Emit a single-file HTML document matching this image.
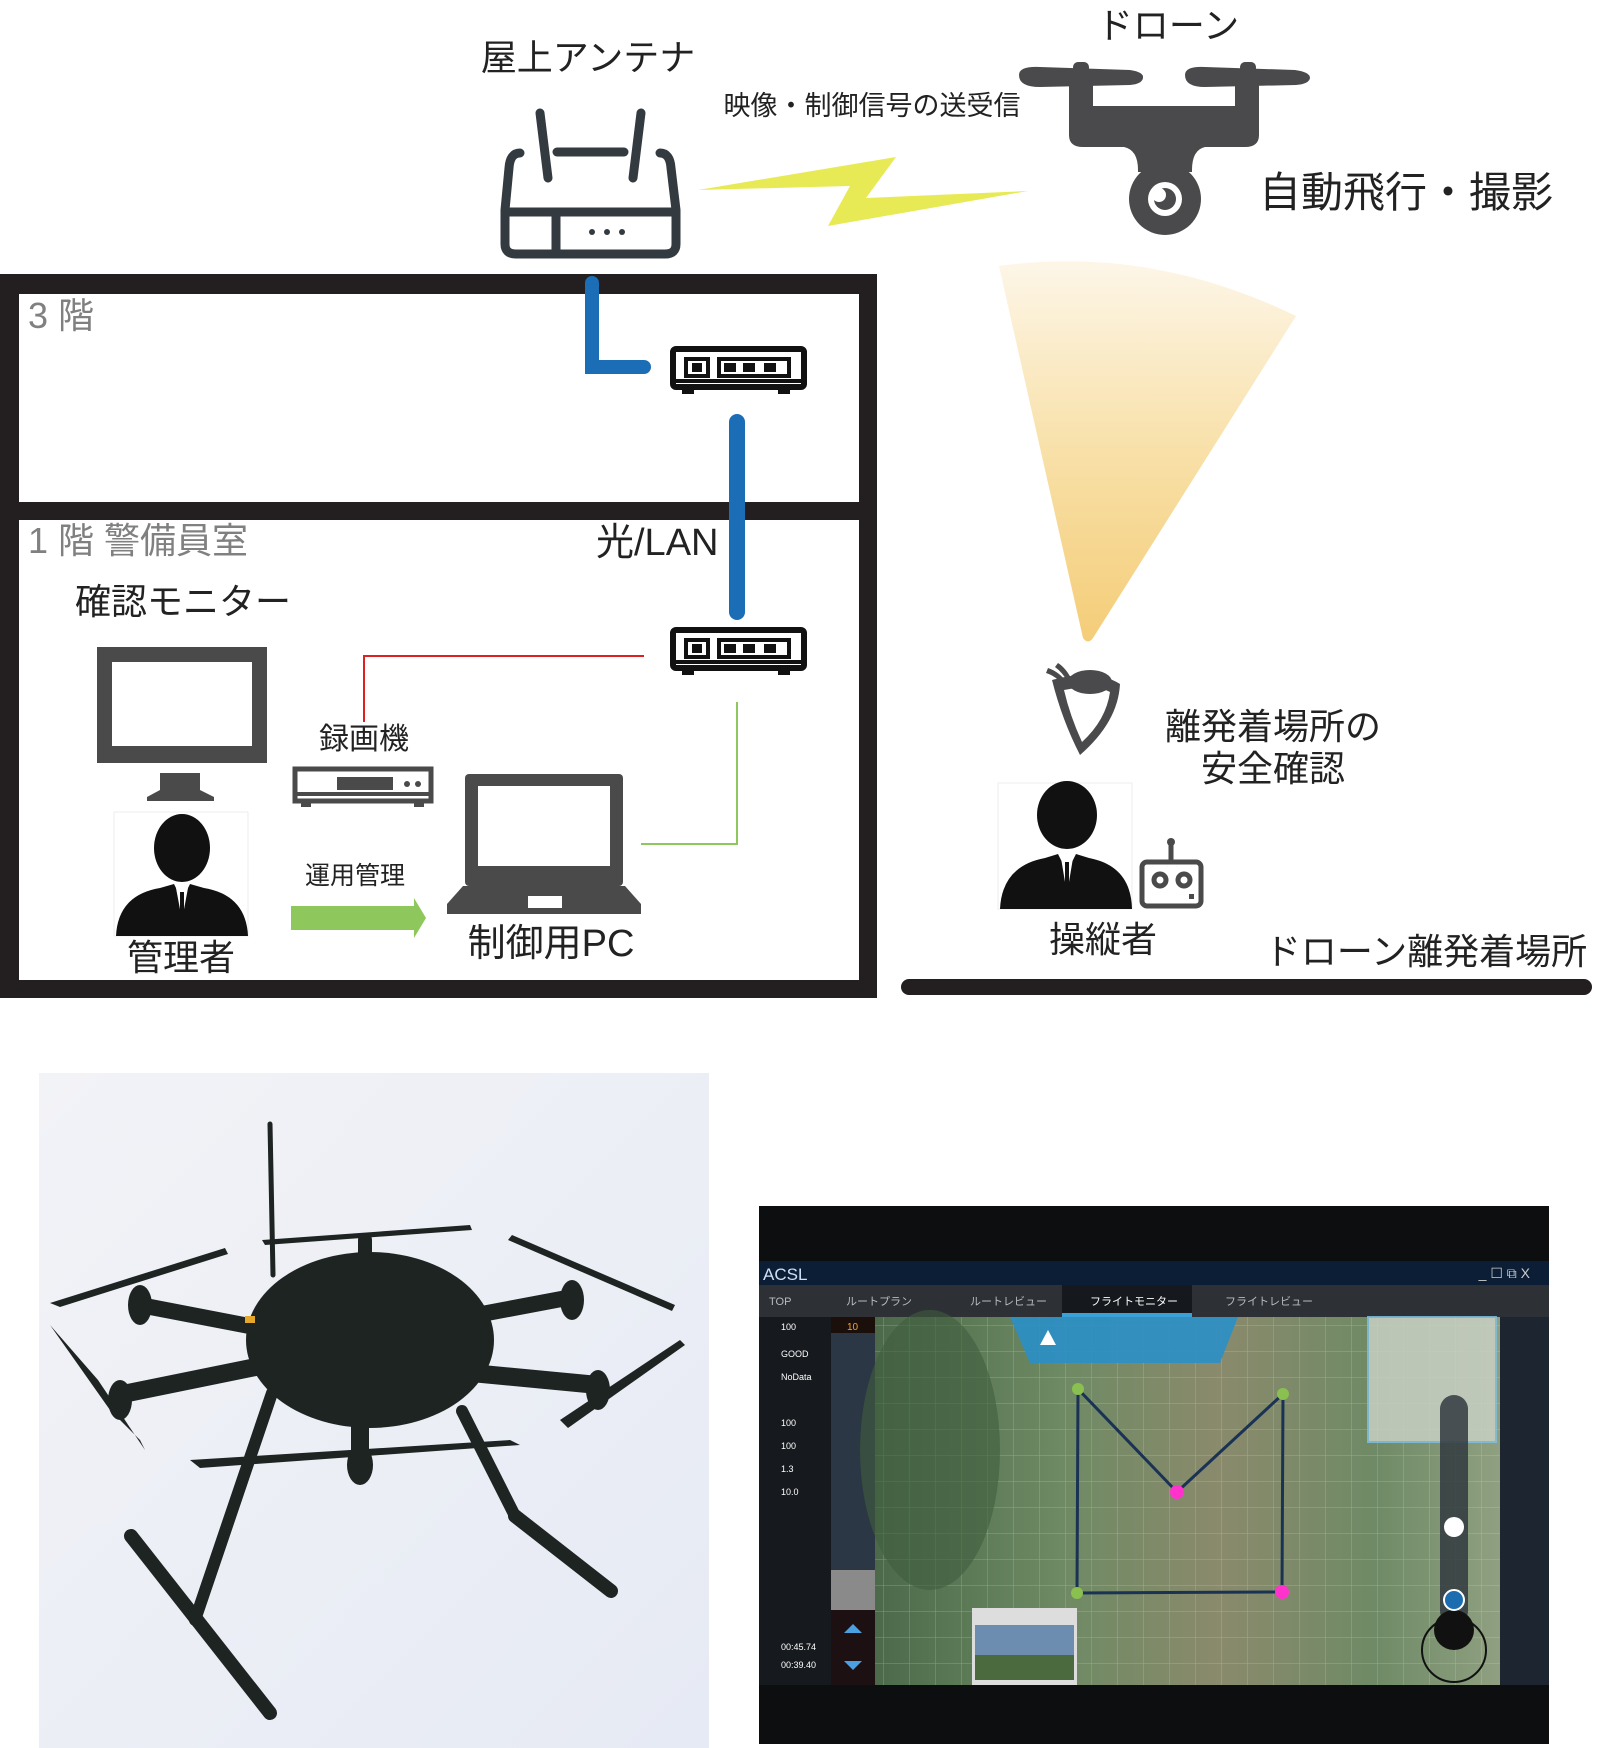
<!DOCTYPE html>
<html><head><meta charset="utf-8"><style>
html,body{margin:0;padding:0;background:#fff;}
svg{display:block;font-family:"Liberation Sans","Noto Sans CJK JP",sans-serif;}
</style></head><body>
<svg width="1598" height="1748" viewBox="0 0 1598 1748" xmlns="http://www.w3.org/2000/svg">
<defs>
<linearGradient id="fan" x1="0" y1="0" x2="0" y2="1">
<stop offset="0" stop-color="#fdf6e8"/><stop offset="0.5" stop-color="#f8e0a8"/><stop offset="1" stop-color="#f4cd78"/>
</linearGradient>
<linearGradient id="photo" x1="0" y1="0" x2="1" y2="1">
<stop offset="0" stop-color="#f2f3f7"/><stop offset="1" stop-color="#e6eaf4"/>
</linearGradient>
<linearGradient id="map" x1="0" y1="0" x2="1" y2="0">
<stop offset="0" stop-color="#4c6a4a"/><stop offset="0.3" stop-color="#6e8a64"/><stop offset="0.55" stop-color="#8a8a6c"/><stop offset="0.8" stop-color="#6f8a66"/><stop offset="1" stop-color="#8fa080"/>
</linearGradient>
<pattern id="grid" width="26" height="26" patternUnits="userSpaceOnUse"><path d="M26 0V26H0" fill="none" stroke="#dfe8e0" stroke-opacity="0.35" stroke-width="1"/></pattern>
</defs>

<!-- top texts -->
<g fill="#222" font-size="36">
<text x="588" y="70" text-anchor="middle">屋上アンテナ</text>
<text x="1168" y="38" text-anchor="middle">ドローン</text>
<text x="1406" y="207" text-anchor="middle" font-size="42">自動飛行・撮影</text>
</g>
<text x="872" y="115" text-anchor="middle" font-size="27" fill="#222">映像・制御信号の送受信</text>

<!-- router -->
<g fill="none" stroke="#333a40" stroke-width="9" stroke-linecap="round" stroke-linejoin="round">
<path d="M520 153 Q510 153 509 168 L505 210 L505 244 Q505 254 516 254 L665 254 Q676 254 676 244 L676 210 L671 168 Q670 153 660 153"/>
<line x1="505" y1="212" x2="676" y2="212"/>
<line x1="556" y1="212" x2="556" y2="254"/>
<line x1="540" y1="113" x2="548" y2="178"/>
<line x1="641" y1="113" x2="633" y2="178"/>
<line x1="557" y1="152" x2="624" y2="152"/>
</g>
<g fill="#333a40"><circle cx="592" cy="232" r="3"/><circle cx="607" cy="232" r="3"/><circle cx="622" cy="232" r="3"/></g>

<!-- lightning -->
<polygon points="698,190 896,157 866,198 1028,191 828,226 850,186" fill="#e8ea55"/>

<!-- drone icon -->
<g fill="#4a4a4c">
<path d="M1019 75 Q1019 66 1040 67 L1130 70 Q1144 72 1143 78 Q1142 84 1130 85 L1040 87 Q1019 87 1019 75Z"/>
<path d="M1185 75 Q1185 66 1205 67 L1295 70 Q1310 72 1310 78 Q1309 84 1296 85 L1205 87 Q1185 87 1185 75Z"/>
<rect x="1073" y="62" width="16" height="22" rx="5"/><rect x="1240" y="62" width="16" height="22" rx="5"/>
<path d="M1069 80 L1093 80 L1093 106 L1235 106 L1235 80 L1259 80 L1259 135 Q1259 147 1245 147 L1205 147 Q1192 150 1192 170 L1192 172 L1138 172 L1138 170 Q1138 150 1124 147 L1083 147 Q1069 147 1069 135Z"/>
<circle cx="1165" cy="199" r="36"/>
</g>
<circle cx="1165" cy="199" r="17" fill="#fff"/><circle cx="1165" cy="199" r="11" fill="#4a4a4c"/><circle cx="1159" cy="195" r="7" fill="#fff"/>

<!-- fan -->
<path d="M999 266 Q1150 245 1296 316 L1093 638 L1093 638 Q1088 645 1083 638 Z" fill="url(#fan)"/>

<!-- building -->
<rect x="0" y="274" width="877" height="724" fill="#231f20"/>
<rect x="19" y="294" width="840" height="208" fill="#fff"/>
<rect x="19" y="520" width="840" height="460" fill="#fff"/>
<text x="28" y="328" font-size="36" fill="#808080">3 階</text>
<text x="28" y="553" font-size="36" fill="#808080">1 階 警備員室</text>
<text x="596" y="555" font-size="38" fill="#222">光/LAN</text>
<text x="75" y="614" font-size="36" fill="#222">確認モニター</text>

<!-- blue lines -->
<path d="M592 283 V367 H644" fill="none" stroke="#1b6db5" stroke-width="14" stroke-linecap="round"/>
<line x1="737" y1="422" x2="737" y2="612" stroke="#1b6db5" stroke-width="16" stroke-linecap="round"/>

<!-- switches -->
<g id="sw">
<rect x="673" y="349" width="131" height="38" rx="3" fill="#fff" stroke="#111" stroke-width="6"/>
<line x1="673" y1="381" x2="804" y2="381" stroke="#111" stroke-width="4"/>
<rect x="686" y="359" width="22" height="17" fill="none" stroke="#111" stroke-width="4"/>
<rect x="719" y="359" width="70" height="17" fill="none" stroke="#111" stroke-width="4"/>
<rect x="692" y="363" width="10" height="9" fill="#111"/><rect x="724" y="363" width="12" height="9" fill="#111"/><rect x="743" y="363" width="12" height="9" fill="#111"/><rect x="764" y="363" width="12" height="9" fill="#111"/>
<rect x="682" y="389" width="12" height="5" fill="#111"/><rect x="778" y="389" width="12" height="5" fill="#111"/>
</g>
<use href="#sw" y="281"/>

<!-- red & green lines -->
<path d="M644 656 H364 V722" fill="none" stroke="#e02020" stroke-width="2"/>
<path d="M737 702 V844 H641" fill="none" stroke="#8ec85c" stroke-width="2"/>

<!-- monitor -->
<rect x="97" y="647" width="170" height="116" fill="#4a4a4a"/>
<rect x="112" y="662" width="140" height="84" fill="#fff"/>
<path d="M160 773 H200 V790 L214 797 V801 H147 V797 L160 790Z" fill="#4a4a4a"/>

<!-- manager person -->
<rect x="114" y="812" width="134" height="124" fill="#fff" stroke="#eee"/>
<ellipse cx="182" cy="848" rx="28" ry="34" fill="#111"/>
<path d="M116 936 Q118 895 160 888 L174 884 L182 900 L190 884 L204 888 Q246 895 248 936Z" fill="#111"/>
<path d="M176 888 L182 920 L188 888Z" fill="#fff"/><line x1="182" y1="892" x2="182" y2="920" stroke="#111" stroke-width="4"/>
<text x="181" y="970" font-size="36" fill="#222" text-anchor="middle">管理者</text>

<!-- recorder -->
<text x="364" y="749" font-size="30" fill="#222" text-anchor="middle">録画機</text>
<rect x="295" y="769" width="136" height="32" fill="#fff" stroke="#4a4a4a" stroke-width="5"/>
<line x1="295" y1="794" x2="431" y2="794" stroke="#4a4a4a" stroke-width="4"/>
<rect x="337" y="777" width="56" height="13" fill="#4a4a4a"/>
<circle cx="407" cy="784" r="3" fill="#4a4a4a"/><circle cx="418" cy="784" r="3" fill="#4a4a4a"/>
<rect x="301" y="801" width="10" height="6" fill="#4a4a4a"/><rect x="414" y="801" width="10" height="6" fill="#4a4a4a"/>

<!-- arrow -->
<text x="355" y="884" font-size="25" fill="#222" text-anchor="middle">運用管理</text>
<polygon points="291,906 414,906 414,898 426,918 414,938 414,930 291,930" fill="#8ec85c"/>

<!-- laptop -->
<rect x="465" y="774" width="158" height="112" rx="4" fill="#4a4a4a"/>
<rect x="478" y="786" width="132" height="80" fill="#fff"/>
<path d="M463 886 H625 L641 904 V914 H447 V904Z" fill="#4a4a4a"/>
<rect x="528" y="896" width="34" height="12" fill="#fff"/>
<text x="551" y="956" font-size="38" fill="#222" text-anchor="middle">制御用PC</text>

<!-- eye icon -->
<g fill="#4a4a4c">
<path d="M1052 680 Q1095 668 1120 684 Q1118 722 1080 755 Q1062 720 1052 680Z"/>
<path d="M1064 690 Q1095 684 1110 692 Q1106 720 1082 742 Q1070 716 1064 690Z" fill="#fff"/>
<ellipse cx="1090" cy="682" rx="22" ry="12"/>
<path d="M1048 668 Q1060 672 1068 684 L1064 686 Q1056 676 1046 673Z"/>
<path d="M1058 663 Q1066 668 1072 680 L1068 682 Q1062 672 1055 667Z"/>
</g>
<text x="1273" y="739" font-size="36" fill="#222" text-anchor="middle">離発着場所の</text>
<text x="1273" y="781" font-size="36" fill="#222" text-anchor="middle">安全確認</text>

<!-- operator -->
<rect x="998" y="783" width="134" height="126" fill="#fff" stroke="#eee"/>
<ellipse cx="1067" cy="815" rx="30" ry="34" fill="#111"/>
<path d="M1000 909 Q1002 866 1045 858 L1058 854 L1067 872 L1076 854 L1089 858 Q1131 866 1132 909Z" fill="#111"/>
<path d="M1061 858 L1067 894 L1073 858Z" fill="#fff"/><line x1="1067" y1="862" x2="1067" y2="894" stroke="#111" stroke-width="4"/>
<g fill="none" stroke="#4a4a4a" stroke-width="5">
<rect x="1142" y="862" width="59" height="44" rx="5"/>
<line x1="1171" y1="862" x2="1171" y2="845"/>
<circle cx="1160" cy="880" r="6"/><circle cx="1184" cy="880" r="6"/>
</g>
<circle cx="1171" cy="842" r="4" fill="#4a4a4a"/><rect x="1189" y="894" width="5" height="5" fill="#4a4a4a"/>
<text x="1103" y="952" font-size="36" fill="#222" text-anchor="middle">操縦者</text>
<text x="1426" y="964" font-size="36" fill="#222" text-anchor="middle">ドローン離発着場所</text>
<line x1="909" y1="987" x2="1584" y2="987" stroke="#231f20" stroke-width="16" stroke-linecap="round"/>

<!-- drone photo -->
<rect x="39" y="1073" width="670" height="675" fill="url(#photo)"/>
<g stroke="#1e2422" stroke-linecap="round" fill="none">
<line x1="270" y1="1124" x2="273" y2="1275" stroke-width="5"/>
<line x1="272" y1="1393" x2="195" y2="1620" stroke-width="12"/>
<line x1="131" y1="1536" x2="270" y2="1713" stroke-width="14"/>
<line x1="462" y1="1411" x2="515" y2="1516" stroke-width="12"/>
<line x1="515" y1="1516" x2="611" y2="1591" stroke-width="14"/>
<line x1="118" y1="1395" x2="290" y2="1360" stroke-width="18"/>
<line x1="598" y1="1385" x2="440" y2="1370" stroke-width="18"/>
<line x1="140" y1="1305" x2="270" y2="1330" stroke-width="16"/>
<line x1="572" y1="1297" x2="450" y2="1320" stroke-width="16"/>
<line x1="360" y1="1460" x2="360" y2="1400" stroke-width="18"/>
<line x1="365" y1="1240" x2="365" y2="1270" stroke-width="14"/>
</g>
<g fill="#1e2422">
<ellipse cx="370" cy="1340" rx="124" ry="88"/>
<ellipse cx="120" cy="1400" rx="12" ry="20"/><ellipse cx="140" cy="1305" rx="12" ry="20"/>
<ellipse cx="598" cy="1390" rx="12" ry="20"/><ellipse cx="572" cy="1300" rx="12" ry="20"/>
<ellipse cx="360" cy="1465" rx="13" ry="20"/>
<polygon points="50,1303 225,1248 228,1254 60,1307"/>
<polygon points="50,1325 110,1410 140,1440 145,1450 98,1380"/>
<polygon points="190,1460 510,1440 520,1445 200,1468"/>
<polygon points="262,1240 470,1225 472,1230 265,1245"/>
<polygon points="512,1235 675,1305 672,1311 508,1240"/>
<polygon points="560,1420 680,1340 685,1345 568,1428"/>
</g>
<rect x="245" y="1316" width="10" height="7" fill="#e6a82a"/>

<!-- screenshot -->
<rect x="759" y="1206" width="790" height="538" fill="#0d0e10"/>
<rect x="759" y="1261" width="790" height="24" fill="#0c1e36"/>
<text x="763" y="1280" font-size="17" fill="#cfe0f5">ACSL</text>
<text x="1530" y="1278" font-size="14" fill="#ccc" text-anchor="end">_ ☐ ⧉ X</text>
<rect x="759" y="1285" width="790" height="32" fill="#2d3136"/>
<rect x="1062" y="1285" width="130" height="32" fill="#15181c"/>
<rect x="1062" y="1313" width="130" height="4" fill="#3aa0d8"/>
<g font-size="11" fill="#b8bcc2">
<text x="769" y="1305">TOP</text><text x="846" y="1305">ルートプラン</text><text x="970" y="1305">ルートレビュー</text>
<text x="1090" y="1305" fill="#fff">フライトモニター</text><text x="1225" y="1305">フライトレビュー</text>
</g>
<rect x="759" y="1317" width="72" height="368" fill="#16191d"/>
<g font-size="9" fill="#fff">
<text x="781" y="1330">100</text><text x="781" y="1357">GOOD</text><text x="781" y="1380">NoData</text>
<text x="781" y="1426">100</text><text x="781" y="1449">100</text><text x="781" y="1472">1.3</text><text x="781" y="1495">10.0</text>
<text x="781" y="1650">00:45.74</text><text x="781" y="1668">00:39.40</text>
</g>
<rect x="831" y="1317" width="44" height="368" fill="#2b3744"/>
<rect x="831" y="1317" width="44" height="16" fill="#1a0f0a"/>
<text x="847" y="1330" font-size="10" fill="#f3a23b">10</text>
<rect x="831" y="1570" width="44" height="40" fill="#8a8a8a"/>
<rect x="831" y="1610" width="44" height="75" fill="#1d1013"/>
<polygon points="844,1633 862,1633 853,1624" fill="#4aa0e0"/><polygon points="844,1661 862,1661 853,1670" fill="#4aa0e0"/>
<rect x="875" y="1317" width="625" height="368" fill="url(#map)"/>
<rect x="875" y="1317" width="625" height="368" fill="url(#grid)"/>
<ellipse cx="930" cy="1450" rx="70" ry="140" fill="#3f5e3e" opacity="0.6"/>
<polygon points="1010,1317 1238,1317 1220,1363 1030,1363" fill="#2a8fc8" opacity="0.9"/>
<polygon points="1040,1345 1056,1345 1048,1330" fill="#fff"/>
<rect x="1368" y="1317" width="128" height="125" fill="#c8d0c4" opacity="0.85" stroke="#7fbfe0" stroke-width="2"/>
<polyline points="1078,1389 1177,1492 1283,1394 1282,1592 1077,1593 1078,1389" fill="none" stroke="#1a3355" stroke-width="3"/>
<circle cx="1177" cy="1492" r="7" fill="#ff33cc"/><circle cx="1282" cy="1592" r="7" fill="#ff33cc"/>
<circle cx="1078" cy="1389" r="6" fill="#8ac050"/><circle cx="1283" cy="1394" r="6" fill="#8ac050"/><circle cx="1077" cy="1593" r="6" fill="#8ac050"/>
<rect x="1440" y="1395" width="28" height="230" rx="14" fill="#333a40" opacity="0.85"/>
<circle cx="1454" cy="1527" r="10" fill="#fff"/>
<circle cx="1454" cy="1650" r="32" fill="none" stroke="#111" stroke-width="2"/>
<circle cx="1454" cy="1630" r="20" fill="#111"/>
<circle cx="1454" cy="1600" r="10" fill="#1c6db0" stroke="#fff" stroke-width="2"/>
<rect x="1500" y="1317" width="49" height="368" fill="#1c2530"/>
<rect x="972" y="1608" width="105" height="77" fill="#ddd"/>
<rect x="975" y="1625" width="99" height="55" fill="#6c8db0"/>
<rect x="975" y="1655" width="99" height="25" fill="#4b6a3e"/>
</svg>
</body></html>
